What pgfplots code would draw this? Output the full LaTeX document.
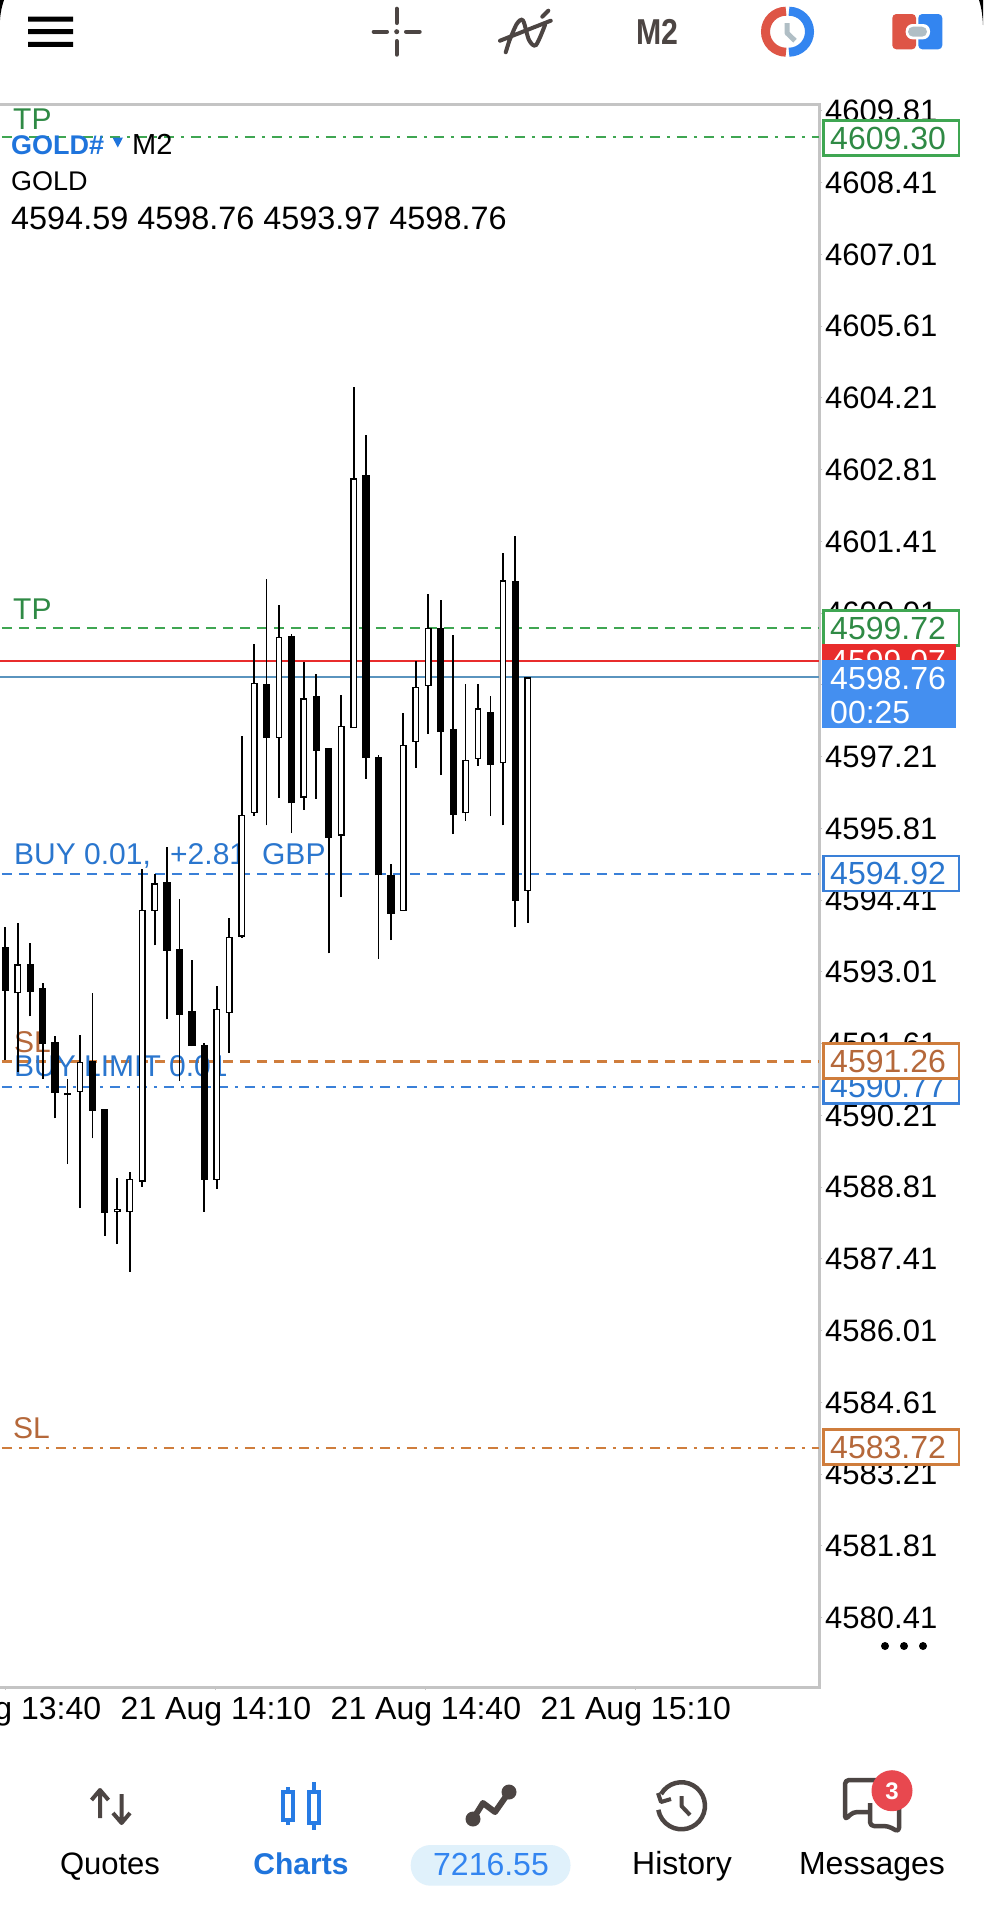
\documentclass[border=0pt]{standalone}
\usepackage{pgfplots}
\usepackage{pgfplotstable}
\usepackage{fontspec}
\pgfplotsset{compat=1.18}
\setmainfont{Liberation Sans}
\newcommand\fs[1]{\fontsize{#1}{#1}\selectfont}
\definecolor{frame}{HTML}{C4C4C4}
\definecolor{tpg}{HTML}{3FA652}
\definecolor{tptxt}{HTML}{2F8A45}
\definecolor{buyb}{HTML}{3A80D8}
\definecolor{buytxt}{HTML}{2A76CE}
\definecolor{slo}{HTML}{CF7D3C}
\definecolor{sltxt}{HTML}{B5683A}
\definecolor{redl}{HTML}{E82C2C}
\definecolor{bidl}{HTML}{5A94BE}
\definecolor{bluebox}{HTML}{448FF0}
\definecolor{icon}{HTML}{4C4543}
\definecolor{iconred}{HTML}{DE5546}
\definecolor{iconblue}{HTML}{3385F0}
\definecolor{icongray}{HTML}{B0BEC5}
\definecolor{tabblue}{HTML}{1F74DC}
\definecolor{pill}{HTML}{E0F1FB}
\definecolor{badge}{HTML}{E8484F}
\pgfplotstableread{
i open high low close
0 4593.50 4593.89 4591.29 4592.64
2 4593.16 4593.57 4592.14 4592.62
3 4592.69 4592.79 4590.93 4591.60
4 4591.64 4591.76 4590.15 4590.65
5 4590.65 4590.93 4589.26 4590.60
7 4591.28 4592.59 4589.76 4590.30
8 4590.33 4590.33 4587.86 4588.31
13 4594.76 4595.45 4592.09 4593.42
14 4593.45 4594.44 4590.89 4592.17
15 4592.24 4593.24 4591.56 4591.56
16 4591.58 4591.62 4588.33 4588.95
21 4598.63 4600.68 4595.87 4597.57
23 4599.56 4599.60 4595.72 4596.30
25 4598.39 4598.83 4596.39 4597.33
26 4597.38 4597.38 4593.37 4595.63
29 4602.70 4603.49 4596.78 4597.18
30 4597.20 4597.24 4593.27 4594.90
31 4594.90 4595.12 4593.63 4594.14
35 4599.73 4600.27 4596.85 4597.69
36 4597.74 4599.58 4595.70 4596.08
39 4598.09 4598.39 4596.05 4597.05
41 4600.64 4601.51 4593.88 4594.39
}\blackcandles
\pgfplotstableread{
i open high low close
1 4592.59 4593.97 4591.06 4593.16
6 4590.67 4591.78 4588.40 4591.26
9 4588.32 4588.99 4587.70 4588.38
10 4588.32 4589.10 4587.16 4588.97
11 4588.92 4595.01 4588.82 4594.22
12 4594.20 4594.92 4593.53 4594.74
17 4588.95 4592.74 4588.77 4592.29
18 4592.21 4594.07 4591.43 4593.69
19 4593.70 4597.62 4593.67 4596.07
20 4596.11 4599.40 4596.06 4598.65
22 4597.57 4600.16 4596.41 4599.55
24 4596.41 4599.06 4596.17 4598.35
27 4595.67 4598.42 4594.47 4597.81
28 4597.77 4604.43 4597.77 4602.64
32 4594.20 4598.06 4594.20 4597.44
33 4597.50 4599.08 4596.99 4598.57
34 4598.59 4600.39 4597.66 4599.72
37 4596.11 4598.62 4595.96 4597.15
38 4597.16 4598.63 4597.03 4598.15
40 4597.08 4601.19 4595.87 4600.65
42 4594.59 4598.76 4593.97 4598.76
}\whitecandles
\pgfplotsset{
  seg/.style n args={2}{no markers,draw=none,forget plot,
    error bars/.cd,y dir=plus,y explicit,error mark=none,
    error bar style={#1,line width=#2}},
}
\newcommand\pbox[4]{%
  \draw[#1,line width=2.3pt,fill=white] (823.5,#2-17.5) rectangle (959,#2+17.5);
  \node[anchor=west,inner sep=0pt,text=#3,font=\fs{32}] at (830,#2) {#4};}
\newcommand\tab[4]{\node[anchor=base,inner sep=0pt,text=#3,font=\fs{#4}] at #1 {#2};}
\begin{document}
\begin{tikzpicture}[x=1pt,y=-1pt]
\path[use as bounding box,clip] (0,0) rectangle (983,1920);
\fill[white] (0,0) rectangle (983,1920);
\begin{axis}[
  at={(-10pt,-1687pt)},anchor=south west,
  scale only axis,width=829pt,height=1583pt,
  xmin=-1.232,xmax=65.41,ymin=4579.057,ymax=4609.944,
  axis line style={color=frame,line width=3pt},
  tick style={color=frame,line width=1pt},
  major tick length=3pt,tick align=outside,
  yticklabel pos=right,ytick pos=right,xtick pos=bottom,
  ytick={4609.81,4608.41,4607.01,4605.61,4604.21,4602.81,4601.41,4600.01,4598.61,4597.21,4595.81,4594.41,4593.01,4591.61,4590.21,4588.81,4587.41,4586.01,4584.61,4583.21,4581.81,4580.41},
  yticklabels={4609.81,4608.41,4607.01,4605.61,4604.21,4602.81,4601.41,4600.01,4598.61,4597.21,4595.81,4594.41,4593.01,4591.61,4590.21,4588.81,4587.41,4586.01,4584.61,4583.21,4581.81,4580.41},
  xtick={0.054,16.93,33.81,50.69},
  xticklabels={21 Aug 13:40,21 Aug 14:10,21 Aug 14:40,21 Aug 15:10},
  yticklabel style={anchor=west,inner sep=0pt,xshift=3pt,font=\fs{31},text=black},
  xticklabel style={anchor=north,inner sep=0pt,yshift=-7pt,font=\fs{32},text=black},
]
\addplot[tpg,line width=2.4pt,dash pattern=on 10pt off 7pt on 3pt off 7pt] coordinates {(-0.268,4609.30)(65.41,4609.30)};
\addplot[tpg,line width=2.4pt,dash pattern=on 10pt off 7pt] coordinates {(-0.268,4599.72)(65.41,4599.72)};
\addplot[redl,line width=1.8pt] coordinates {(-1.232,4599.07)(65.41,4599.07)};
\addplot[bidl,line width=1.8pt] coordinates {(-1.232,4598.76)(65.41,4598.76)};
\addplot[buyb,line width=2.4pt,dash pattern=on 10pt off 7pt] coordinates {(-0.268,4594.92)(65.41,4594.92)};
\addplot[slo,line width=2.4pt,dash pattern=on 10pt off 7pt] coordinates {(-0.268,4591.26)(65.41,4591.26)};
\addplot[buyb,line width=2.4pt,dash pattern=on 10pt off 7pt on 3pt off 7pt] coordinates {(-0.268,4590.77)(65.41,4590.77)};
\addplot[slo,line width=2.4pt,dash pattern=on 10pt off 7pt on 3pt off 7pt] coordinates {(-0.268,4583.72)(65.41,4583.72)};
\node[anchor=base west,inner sep=0pt,text=tptxt,font=\fs{30}] at (axis cs:0.617,4609.44) {TP};
\node[anchor=base west,inner sep=0pt,text=tptxt,font=\fs{30}] at (axis cs:0.617,4599.88) {TP};
\node[anchor=base west,inner sep=0pt,text=buytxt,font=\fs{30}] at (axis cs:0.697,4595.10) {BUY 0.01,};
\node[anchor=base west,inner sep=0pt,text=buytxt,font=\fs{30}] at (axis cs:13.24,4595.10) {+2.81};
\node[anchor=base west,inner sep=0pt,text=buytxt,font=\fs{30}] at (axis cs:20.63,4595.10) {GBP};
\node[anchor=base west,inner sep=0pt,text=sltxt,font=\fs{30}] at (axis cs:0.697,4591.43) {SL};
\node[anchor=base west,inner sep=0pt,text=buytxt,font=\fs{30}] at (axis cs:0.697,4590.96) {BUY LIMIT 0.01};
\node[anchor=base west,inner sep=0pt,text=sltxt,font=\fs{30}] at (axis cs:0.617,4583.90) {SL};
% wicks
\addplot[seg={black}{1.8pt}] table[x=i,y=low,y error plus expr=\thisrow{high}-\thisrow{low}] {\blackcandles};
\addplot[seg={black}{1.8pt}] table[x=i,y=low,y error plus expr=\thisrow{high}-\thisrow{low}] {\whitecandles};
% bodies
\addplot[seg={black}{7.3pt}] table[x=i,y=close,y error plus expr=\thisrow{open}-\thisrow{close}] {\blackcandles};
\addplot[seg={black}{6.8pt}] table[x=i,y=open,y error plus expr=\thisrow{close}-\thisrow{open}] {\whitecandles};
\addplot[seg={white}{4pt}] table[x=i,y expr=\thisrow{open}+0.025,y error plus expr=\thisrow{close}-\thisrow{open}-0.05] {\whitecandles};
\end{axis}
% header text
\node[anchor=base west,inner sep=0pt,text=tabblue,font=\fs{27}\bfseries] at (11,154) {GOLD\#};
\fill[tabblue] (112.5,137.5) -- (123,137.5) -- (117.8,147.5) -- cycle;
\node[anchor=base west,inner sep=0pt,font=\fs{29}] at (132,154) {M2};
\node[anchor=base west,inner sep=0pt,font=\fs{27}] at (11,190.7) {GOLD};
\node[anchor=base west,inner sep=0pt,font=\fs{32.4}] at (11,229.3) {4594.59 4598.76 4593.97 4598.76};
% price boxes on the scale
\pbox{tpg}{138}{tptxt}{4609.30}
\pbox{tpg}{628}{tptxt}{4599.72}
\fill[redl] (822,644) rectangle (956,662);
\node[anchor=west,inner sep=0pt,text=white,font=\fs{32}] at (830,661) {4599.07};
\fill[bluebox] (822,660) rectangle (956,728);
\node[anchor=west,inner sep=0pt,text=white,font=\fs{32}] at (830,678) {4598.76};
\node[anchor=west,inner sep=0pt,text=white,font=\fs{32}] at (830,712) {00:25};
\pbox{buyb}{873.5}{buytxt}{4594.92}
\pbox{buyb}{1086}{buytxt}{4590.77}
\pbox{slo}{1061}{sltxt}{4591.26}
\pbox{slo}{1447}{sltxt}{4583.72}
\foreach \x in {885,904,923} \fill[black] (\x,1646) circle (4pt);
% top bar
\fill[black] (28,16.5) rectangle (73,21.5) (28,29.2) rectangle (73,34.2) (28,41.8) rectangle (73,46.8);
\begin{scope}[icon,line width=4pt,line cap=round]
\draw (373.7,31.7) -- (387,31.7) (406,31.7) -- (419.7,31.7) (396.7,8.7) -- (396.7,23) (396.7,41) -- (396.7,54.7);
\fill (396.7,31.7) circle (2.5pt);
\draw (500,40.7) -- (550.7,20.7) (505.7,52.3) -- (509,41.7) (542.3,16.7) -- (548.3,10.7);
\draw plot[smooth] coordinates {(509,41.7) (516.7,24) (523,20.5) (529,40) (536,45) (545,25)};
\end{scope}
\node[anchor=base,inner sep=0pt,text=icon,font=\fs{36}\bfseries] at (657,44) {\scalebox{0.84}[1]{M2}};
\draw[iconred,line width=9pt] (786,11.2) arc[start angle=90,end angle=270,radius=20.5pt];
\draw[iconblue,line width=9pt] (789,11.2) arc[start angle=90,end angle=-90,radius=20.5pt];
\draw[icongray,line width=5pt,line join=round] (787,23) -- (787,33) -- (795,40.7);
\fill[iconred,rounded corners=4pt] (892.3,14) rectangle (916,49.3);
\fill[iconblue,rounded corners=4pt] (918.3,14) rectangle (942.3,49.3);
\fill[white,rounded corners=7pt] (905.7,24) rectangle (930,39.3);
\fill[icongray,rounded corners=5pt] (908,26.7) rectangle (927,36.7);
\fill[black] (979,0) .. controls (981,6) and (982.5,14) .. (983,25) -- (983,0) -- cycle;
\fill[black] (4,0) .. controls (2,6) and (0.5,12) .. (0,20) -- (0,0) -- cycle;
% bottom bar
\begin{scope}[icon,line width=4pt,line join=round]
\draw (100,1818) -- (100,1791) (91.5,1800) -- (100,1790) -- (108.5,1800);
\draw (121.6,1794) -- (121.6,1822) (113,1813) -- (121.6,1823) -- (130,1813);
\draw[line width=6pt] (473,1819) -- (483,1803) -- (495,1812) -- (509,1792);
\fill (473,1819) circle (7.5pt) (509,1792) circle (7.5pt);
\draw[line width=4.5pt] (661.1,1794) arc[start angle=150,end angle=-170,radius=23.5pt];
\draw[line width=4pt] (658,1793) -- (661,1802) -- (671,1799);
\draw (681.5,1796) -- (681.5,1806) -- (690,1815);
\draw[line width=4.5pt,rounded corners=4pt] (880,1780) -- (845,1780) -- (845,1820) -- (853,1812) -- (868,1812);
\draw[line width=4.5pt,rounded corners=4pt] (870,1803) -- (870,1826) -- (888,1826) -- (899,1832) -- (899,1800);
\end{scope}
\begin{scope}[tabblue!60!iconblue,line width=4pt]
\draw (288,1787) -- (288,1825) (313.5,1782) -- (313.5,1830);
\draw[fill=white] (283,1792) rectangle (293,1820);
\draw[fill=white] (308.5,1792) rectangle (318.5,1823);
\end{scope}
\fill[badge] (892,1790.7) circle (20.5pt);
\node[anchor=center,inner sep=0pt,text=white,font=\fs{24}\bfseries] at (892,1791) {3};
\fill[pill,rounded corners=20pt] (410.7,1845) rectangle (570.5,1885.7);
\tab{(110,1874)}{Quotes}{black}{31}
\tab{(301,1874)}{\textbf{Charts}}{tabblue}{30}
\tab{(491,1875)}{7216.55}{iconblue}{32}
\tab{(682,1874)}{History}{black}{32}
\tab{(872,1874)}{Messages}{black}{32}
\end{tikzpicture}
\end{document}
